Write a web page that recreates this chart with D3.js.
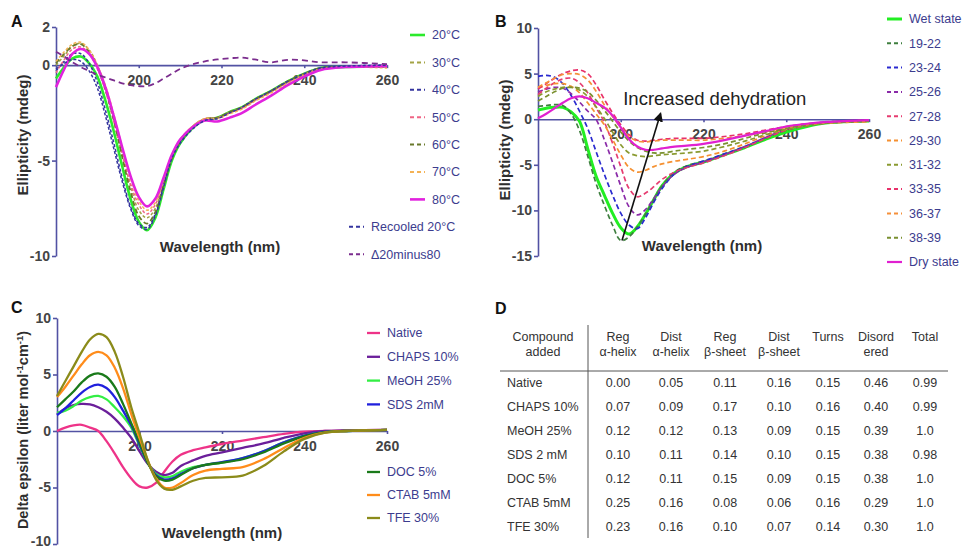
<!DOCTYPE html>
<html>
<head>
<meta charset="utf-8">
<script src="https://cdn.jsdelivr.net/npm/d3@7"></script>
<style>
body { margin: 0; background: #fff; }
svg text { font-family: "Liberation Sans", Arial, sans-serif; }
</style>
</head>
<body>
<div id="figure"></div>
<script>
// ---- panel A: temperature series (mdeg) ----
var waveA = [180,182,184,186,188,190,192,194,196,198,200,202,204,206,208,210,213,216,219,222,225,228,232,236,240,244,250,260];
var a20 = [-0.7,-0.1,0.35,0.45,0.1,-0.6,-1.9,-3.5,-5.3,-7.0,-8.2,-8.65,-8.0,-6.5,-5.0,-4.1,-3.3,-2.85,-2.75,-2.45,-2.2,-1.8,-1.35,-0.85,-0.45,-0.15,-0.1,-0.05];
var a30 = [0.0,0.5,1.0,1.15,0.8,0.0,-1.2,-2.8,-4.6,-6.3,-7.6,-8.0,-7.5,-6.2,-4.8,-4.0,-3.2,-2.8,-2.75,-2.45,-2.2,-1.8,-1.35,-0.85,-0.45,-0.15,-0.1,-0.1];
var a40 = [-0.3,0.2,0.6,0.6,0.1,-0.9,-2.4,-4.1,-5.9,-7.4,-8.3,-8.5,-7.8,-6.3,-4.8,-4.0,-3.3,-2.9,-2.8,-2.5,-2.25,-1.85,-1.35,-0.9,-0.5,-0.15,-0.05,0.0];
var a50 = [-0.4,0.3,0.85,0.95,0.6,-0.2,-1.4,-3.0,-4.7,-6.2,-7.3,-7.8,-7.3,-6.0,-4.7,-3.9,-3.2,-2.8,-2.75,-2.5,-2.25,-1.85,-1.4,-0.9,-0.5,-0.2,-0.1,-0.05];
var a60 = [0.1,0.6,1.0,1.1,0.7,-0.1,-1.3,-2.9,-4.8,-6.6,-7.9,-8.3,-7.7,-6.3,-4.9,-4.0,-3.25,-2.85,-2.75,-2.45,-2.2,-1.8,-1.35,-0.85,-0.45,-0.15,-0.1,-0.1];
var a70 = [0.2,0.7,1.1,1.2,0.8,0.0,-1.1,-2.6,-4.3,-5.9,-7.1,-7.6,-7.2,-6.0,-4.7,-3.9,-3.2,-2.8,-2.8,-2.55,-2.3,-1.9,-1.45,-0.95,-0.5,-0.2,-0.1,-0.15];
var a80 = [-1.15,-0.2,0.6,0.85,0.6,-0.1,-1.2,-2.7,-4.3,-5.8,-6.9,-7.4,-7.0,-5.9,-4.7,-3.9,-3.25,-2.9,-2.95,-2.75,-2.5,-2.1,-1.6,-1.05,-0.6,-0.25,-0.1,-0.05];
var aRecooled = [-0.2,0.1,0.3,0.2,-0.3,-1.2,-2.7,-4.4,-6.1,-7.5,-8.4,-8.6,-7.9,-6.4,-4.9,-4.1,-3.35,-2.9,-2.8,-2.5,-2.2,-1.8,-1.35,-0.85,-0.45,-0.15,-0.05,0.0];
var aDiff = [0.7,0.45,0.15,-0.1,-0.3,-0.5,-0.65,-0.8,-0.95,-1.05,-1.1,-1.1,-0.95,-0.7,-0.45,-0.2,0.05,0.2,0.3,0.36,0.4,0.3,0.15,0.28,0.25,0.15,0.15,0.05];
var namesA = ["20°C","30°C","40°C","50°C","60°C","70°C","80°C","Recooled 20°C","\u039420minus80"];
var valuesA = [a20, a30, a40, a50, a60, a70, a80, aRecooled, aDiff];

// ---- panel B: hydration series (mdeg) ----
var waveB = [180,182,184,186,188,190,192,194,196,198,200,202,204,206,208,210,213,216,220,225,230,235,240,245,250,260];
var bWet = [1.0,1.2,1.3,1.3,0.8,-0.2,-3.2,-6.2,-8.3,-10.3,-11.9,-12.6,-11.8,-10.4,-8.8,-7.3,-5.9,-5.2,-4.7,-3.9,-3.1,-2.2,-1.4,-0.8,-0.4,-0.2];
var b1922 = [1.4,1.5,1.6,1.5,0.6,-1.2,-4.0,-7.0,-9.4,-11.6,-13.3,-12.9,-11.8,-10.4,-8.8,-7.3,-5.8,-5.1,-4.6,-3.9,-3.1,-2.1,-1.2,-0.7,-0.4,-0.2];
var b2324 = [4.7,4.8,4.6,3.9,2.6,0.9,-1.0,-3.5,-6.0,-8.3,-10.3,-11.6,-12.0,-10.8,-9.1,-7.6,-6.0,-5.2,-4.6,-3.8,-3.0,-2.0,-1.1,-0.6,-0.3,-0.1];
var b2526 = [3.0,3.3,3.5,3.4,2.8,1.9,0.9,0.0,-2.2,-4.7,-7.3,-9.6,-10.5,-9.9,-8.7,-7.4,-6.0,-5.3,-4.7,-3.9,-3.0,-2.0,-1.1,-0.6,-0.3,-0.1];
var b2728 = [2.7,3.4,4.0,4.4,4.5,4.0,2.9,1.3,-0.3,-2.6,-5.2,-7.6,-8.5,-8.1,-7.4,-6.6,-5.8,-5.3,-4.8,-4.0,-3.1,-2.1,-1.2,-0.7,-0.4,-0.2];
var b2930 = [3.4,3.7,3.9,3.9,3.6,2.9,1.8,0.6,-0.6,-2.2,-3.9,-5.3,-5.8,-5.6,-5.2,-4.9,-4.6,-4.4,-4.1,-3.5,-2.7,-1.8,-1.1,-0.6,-0.4,-0.2];
var b3132 = [2.5,3.0,3.3,3.5,3.5,3.2,2.5,1.4,0.1,-1.4,-2.8,-3.7,-4.0,-4.1,-4.0,-3.9,-3.8,-3.7,-3.5,-3.0,-2.4,-1.7,-1.1,-0.7,-0.4,-0.2];
var b3335 = [3.3,3.9,4.5,5.0,5.3,5.4,5.0,3.8,2.2,0.7,-0.6,-1.7,-2.3,-2.4,-2.3,-2.2,-2.1,-2.1,-2.1,-1.9,-1.6,-1.2,-0.8,-0.5,-0.35,-0.2];
var b3637 = [3.5,4.0,4.5,4.9,5.0,4.9,4.3,3.1,1.6,0.3,-0.9,-1.9,-2.4,-2.5,-2.4,-2.3,-2.3,-2.3,-2.3,-2.1,-1.8,-1.4,-0.9,-0.6,-0.4,-0.3];
var b3839 = [2.0,2.5,3.0,3.4,3.5,3.4,3.0,2.1,1.0,-0.2,-1.4,-2.4,-3.1,-3.5,-3.7,-3.7,-3.5,-3.3,-3.1,-2.7,-2.1,-1.5,-1.0,-0.6,-0.4,-0.2];
var bDry = [0.1,0.6,1.2,1.8,2.3,2.5,2.3,1.8,1.3,0.4,-0.9,-2.2,-3.0,-3.35,-3.35,-3.2,-3.0,-2.9,-2.7,-2.3,-1.8,-1.3,-0.8,-0.5,-0.3,-0.1];
var namesB = ["Wet state","19-22","23-24","25-26","27-28","29-30","31-32","33-35","36-37","38-39","Dry state"];
var valuesB = [bWet, b1922, b2324, b2526, b2728, b2930, b3132, b3335, b3637, b3839, bDry];

// ---- panel C: additives (delta epsilon) ----
var waveC = [180,182,184,186,188,190,192,194,196,198,200,202,204,206,208,210,213,216,220,225,230,235,240,245,250,260];
var cNative = [0.0,0.3,0.5,0.55,0.3,0.0,-0.9,-2.0,-3.2,-4.2,-4.9,-5.0,-4.6,-3.6,-2.7,-2.1,-1.7,-1.45,-1.15,-0.85,-0.55,-0.25,-0.05,0.0,0.05,0.1];
var cCHAPS = [1.5,2.0,2.3,2.4,2.35,2.1,1.7,1.1,0.3,-0.6,-1.8,-2.9,-3.6,-3.9,-3.7,-3.1,-2.6,-2.2,-1.9,-1.5,-1.1,-0.6,-0.2,0.0,0.05,0.1];
var cMeOH = [1.6,1.8,2.2,2.7,3.0,3.1,2.8,2.1,1.3,0.3,-1.3,-2.8,-3.8,-4.1,-4.0,-3.6,-3.2,-3.0,-2.8,-2.4,-1.8,-1.0,-0.4,-0.1,0.0,0.1];
var cSDS = [1.4,2.0,2.7,3.4,3.9,4.1,3.8,3.0,1.8,0.5,-1.2,-2.8,-3.9,-4.3,-4.2,-3.8,-3.3,-3.0,-2.75,-2.4,-1.8,-1.0,-0.4,-0.1,0.0,0.1];
var cDOC = [2.1,2.8,3.5,4.3,4.9,5.1,4.8,3.9,2.4,0.7,-1.0,-2.8,-4.0,-4.4,-4.3,-3.9,-3.3,-3.0,-2.8,-2.5,-1.9,-1.1,-0.45,-0.1,0.0,0.1];
var cCTAB = [3.0,3.9,4.9,5.9,6.7,7.0,6.7,5.6,3.8,1.5,-0.6,-2.6,-4.2,-5.0,-5.0,-4.6,-3.9,-3.5,-3.35,-3.2,-2.5,-1.5,-0.6,-0.15,0.0,0.1];
var cTFE = [3.1,4.4,5.7,7.0,8.1,8.6,8.3,7.0,4.8,2.1,-0.2,-2.6,-4.3,-5.1,-5.2,-4.9,-4.4,-4.15,-4.1,-3.95,-3.1,-1.8,-0.7,-0.15,0.0,0.1];
var namesC = ["Native","CHAPS 10%","MeOH 25%","SDS 2mM","DOC 5%","CTAB 5mM","TFE 30%"];
var valuesC = [cNative, cCHAPS, cMeOH, cSDS, cDOC, cCTAB, cTFE];

// ---- panel D: secondary structure table ----
var headers = [["Compound","added"],["Reg","\u03b1-helix"],["Dist","\u03b1-helix"],["Reg","\u03b2-sheet"],["Dist","\u03b2-sheet"],["Turns",""],["Disord","ered"],["Total",""]];
var compounds = ["Native","CHAPS 10%","MeOH 25%","SDS 2 mM","DOC 5%","CTAB 5mM","TFE 30%"];
var regHelix = ["0.00","0.07","0.12","0.10","0.12","0.25","0.23"];
var distHelix = ["0.05","0.09","0.12","0.11","0.11","0.16","0.16"];
var regSheet = ["0.11","0.17","0.13","0.14","0.15","0.08","0.10"];
var distSheet = ["0.16","0.10","0.09","0.10","0.09","0.06","0.07"];
var turns = ["0.15","0.16","0.15","0.15","0.15","0.16","0.14"];
var disordered = ["0.46","0.40","0.39","0.38","0.38","0.29","0.30"];
var totals = ["0.99","0.99","1.0","0.98","1.0","1.0","1.0"];

var xTicks = [200, 220, 240, 260];

// styles
var axisColor = "#5252a3";
var tickColor = "#444";
var legendColor = "#3c3c8e";
var colorsA = ["#2bea2b","#a3a345","#34349e","#ef6585","#69792b","#f4b255","#e122de","#35359f","#7b2d8e"];
var dashA = [null,"3,2","3,2","3,2","5,3","3,2",null,"3,2","6,4"];
var widthA = [2.6,1.5,1.5,1.5,1.8,1.5,2.6,1.5,1.8];
var colorsB = ["#22ee22","#3f7f3f","#2a2acf","#8a2aa8","#e63c70","#f59030","#8a9a30","#e8306a","#f5903a","#7a9030","#e020d0"];
var dashB = [null,"5,3","5,3","5,3","5,3","5,3","5,3","5,3","5,3","5,3",null];
var widthB = [3,1.7,1.7,1.7,1.7,1.7,1.7,1.7,1.7,1.7,2.2];
var colorsC = ["#ee3388","#6b1f9a","#33ee44","#2020dd","#1a7a1a","#ff8c1a","#8b8b1a"];

var svg = d3.select("#figure").append("svg")
    .attr("width", 965)
    .attr("height", 551);

svg.append("defs").append("marker")
    .attr("id", "arrow")
    .attr("viewBox", "0 0 10 10")
    .attr("refX", 8).attr("refY", 5)
    .attr("markerWidth", 6).attr("markerHeight", 6)
    .attr("orient", "auto-start-reverse")
    .append("path")
        .attr("d", "M0,0 L10,5 L0,10 z")
        .attr("fill", "#111");

function styleAxis(g){
    g.attr("font-family", null).attr("font-size", null);
    g.select(".domain").attr("stroke", axisColor).attr("stroke-width", 1.6);
    g.selectAll(".tick line").attr("stroke", axisColor).attr("stroke-width", 1.6);
    g.selectAll(".tick text")
        .attr("fill", tickColor)
        .style("font-size", "14px")
        .style("font-weight", "bold");
}

function drawPanel(cfg){
    var g = svg.append("g");
    var x = d3.scaleLinear().domain([180, 260]).range(cfg.xRange);
    var y = d3.scaleLinear().domain(cfg.yDomain).range(cfg.yRange);

    var yAxis = g.append("g")
        .attr("transform", "translate(" + cfg.xRange[0] + ",0)")
        .call(d3.axisLeft(y).tickValues(cfg.yTicks).tickSize(4).tickSizeOuter(0).tickPadding(2).tickFormat(function(d){ return String(d); }))
        .call(styleAxis);

    // keep the lowest tick label inside the picture
    if (cfg.lowLabelDy) {
        yAxis.selectAll(".tick text")
            .filter(function(d){ return d === cfg.yDomain[1]; })
            .attr("dy", cfg.lowLabelDy);
    }

    g.append("g")
        .attr("transform", "translate(0," + y(0) + ")")
        .call(d3.axisBottom(x).tickValues(xTicks).tickSize(3).tickSizeOuter(0).tickPadding(7))
        .call(styleAxis);

    var line = d3.line()
        .x(function(d, i){ return x(cfg.waves[i]); })
        .y(function(d){ return y(d); })
        .curve(d3.curveCatmullRom.alpha(0.5));

    g.selectAll(".curve")
        .data(cfg.values)
        .enter()
        .append("path")
            .attr("class", "curve")
            .attr("fill", "none")
            .attr("d", line)
            .attr("stroke", function(d, i){ return cfg.colors[i]; })
            .attr("stroke-width", function(d, i){ return cfg.widths[i]; })
            .attr("stroke-dasharray", function(d, i){ return cfg.dashes[i]; })
            .attr("stroke-linejoin", "round");

    // axis title and y label
    g.append("text")
        .attr("x", cfg.xLabel[0]).attr("y", cfg.xLabel[1])
        .attr("text-anchor", "middle")
        .attr("fill", "#2e2e2e")
        .style("font-size", "15px").style("font-weight", "bold")
        .text("Wavelength (nm)");

    var yl = g.append("text")
        .attr("transform", "translate(" + cfg.yLabel[0] + "," + cfg.yLabel[1] + ") rotate(-90)")
        .attr("text-anchor", "middle")
        .attr("fill", "#2e2e2e")
        .style("font-size", cfg.yLabelSize).style("font-weight", "bold");
    cfg.yText(yl);

    g.append("text")
        .attr("x", cfg.letter[0]).attr("y", cfg.letter[1])
        .attr("fill", "#111")
        .style("font-size", "16px").style("font-weight", "bold")
        .text(cfg.letterText);

    // legend
    var leg = g.selectAll(".legend")
        .data(cfg.names)
        .enter()
        .append("g")
            .attr("class", "legend")
            .attr("transform", function(d, i){ return "translate(" + cfg.legendX(i) + "," + cfg.legendY(i) + ")"; });

    leg.append("line")
        .attr("x1", 0).attr("x2", cfg.legendLen)
        .attr("stroke", function(d, i){ return cfg.colors[i]; })
        .attr("stroke-width", function(d, i){ return Math.max(cfg.widths[i], 2); })
        .attr("stroke-dasharray", function(d, i){ return cfg.dashes[i] ? "4,3" : null; });

    leg.append("text")
        .attr("x", cfg.legendLen + 7)
        .attr("dy", "0.35em")
        .attr("fill", legendColor)
        .style("font-size", "12.5px")
        .text(function(d){ return d; });

    return {x: x, y: y, g: g};
}

// Panel A
drawPanel({
    xRange: [56, 387], yDomain: [2, -10], yRange: [27, 256], yTicks: [2, 0, -5, -10],
    waves: waveA, values: valuesA, colors: colorsA, dashes: dashA, widths: widthA,
    xLabel: [220, 252], yLabel: [28, 135], yLabelSize: "15px",
    yText: function(t){ t.text("Ellipticity (mdeg)"); },
    letter: [11, 27], letterText: "A",
    names: namesA, legendLen: 15,
    legendX: function(i){ return i < 7 ? 410 : 349; },
    legendY: function(i){ return 35 + i * 27.4; }
});

// Panel B
var pB = drawPanel({
    xRange: [538, 869], yDomain: [10, -15], yRange: [28, 256], yTicks: [10, 5, 0, -5, -10, -15],
    waves: waveB, values: valuesB, colors: colorsB, dashes: dashB, widths: widthB,
    xLabel: [702, 251], yLabel: [510, 140], yLabelSize: "15px",
    yText: function(t){ t.text("Ellipticity (mdeg)"); },
    letter: [495, 27], letterText: "B",
    names: namesB, legendLen: 15,
    legendX: function(i){ return 887; },
    legendY: function(i){ return 19 + i * 24.3; }
});

// arrow annotation in panel B
pB.g.append("line")
    .attr("x1", pB.x(200.3)).attr("y1", pB.y(-13.3))
    .attr("x2", pB.x(209.6)).attr("y2", pB.y(0.6))
    .attr("stroke", "#111").attr("stroke-width", 1.6)
    .attr("marker-end", "url(#arrow)");

pB.g.append("text")
    .attr("x", pB.x(200.6)).attr("y", pB.y(1.6))
    .attr("fill", "#222")
    .style("font-size", "18.5px")
    .text("Increased dehydration");

// Panel C
drawPanel({
    xRange: [57, 387], yDomain: [10, -10], yRange: [318, 544], yTicks: [10, 5, 0, -5, -10],
    lowLabelDy: "0.1em",
    waves: waveC, values: valuesC, colors: colorsC, dashes: colorsC.map(function(){ return null; }),
    widths: colorsC.map(function(){ return 2.3; }),
    xLabel: [222, 538], yLabel: [28, 430], yLabelSize: "14.5px",
    yText: function(t){
        t.append("tspan").text("Delta epsilon (liter mol");
        t.append("tspan").attr("baseline-shift", "super").style("font-size", "9.5px").text("-1");
        t.append("tspan").text("cm");
        t.append("tspan").attr("baseline-shift", "super").style("font-size", "9.5px").text("-1");
        t.append("tspan").text(")");
    },
    letter: [11, 313], letterText: "C",
    names: namesC, legendLen: 13,
    legendX: function(i){ return 367; },
    legendY: function(i){ return i < 4 ? 333 + i * 23.8 : 472 + (i - 4) * 23; }
});

// Panel D table
var tbl = svg.append("g").attr("class", "table");
var colCenters = [543, 618, 671, 725, 779, 828, 876, 925];
var columns = [regHelix, distHelix, regSheet, distSheet, turns, disordered, totals];

tbl.append("text")
    .attr("x", 495).attr("y", 314)
    .attr("fill", "#111")
    .style("font-size", "16px").style("font-weight", "bold")
    .text("D");

tbl.append("line")
    .attr("x1", 588).attr("x2", 588).attr("y1", 325).attr("y2", 538)
    .attr("stroke", "#555").attr("stroke-width", 1);
tbl.append("line")
    .attr("x1", 500).attr("x2", 948).attr("y1", 371).attr("y2", 371)
    .attr("stroke", "#555").attr("stroke-width", 1);

headers.forEach(function(h, i){
    h.forEach(function(part, j){
        tbl.append("text")
            .attr("x", colCenters[i]).attr("y", 337 + j * 15)
            .attr("dy", "0.35em")
            .attr("text-anchor", "middle")
            .attr("fill", "#333")
            .style("font-size", "12.5px")
            .text(part);
    });
});

tbl.selectAll(".rowlabel")
    .data(compounds)
    .enter()
    .append("text")
        .attr("class", "rowlabel")
        .attr("x", 507)
        .attr("y", function(d, i){ return 383 + i * 24; })
        .attr("dy", "0.35em")
        .attr("fill", "#333")
        .style("font-size", "12.5px")
        .text(function(d){ return d; });

columns.forEach(function(col, c){
    tbl.selectAll(".col" + c)
        .data(col)
        .enter()
        .append("text")
            .attr("class", "col" + c)
            .attr("x", colCenters[c + 1])
            .attr("y", function(d, i){ return 383 + i * 24; })
            .attr("dy", "0.35em")
            .attr("text-anchor", "middle")
            .attr("fill", "#333")
            .style("font-size", "12.5px")
            .text(function(d){ return d; });
});
</script>
</body>
</html>
